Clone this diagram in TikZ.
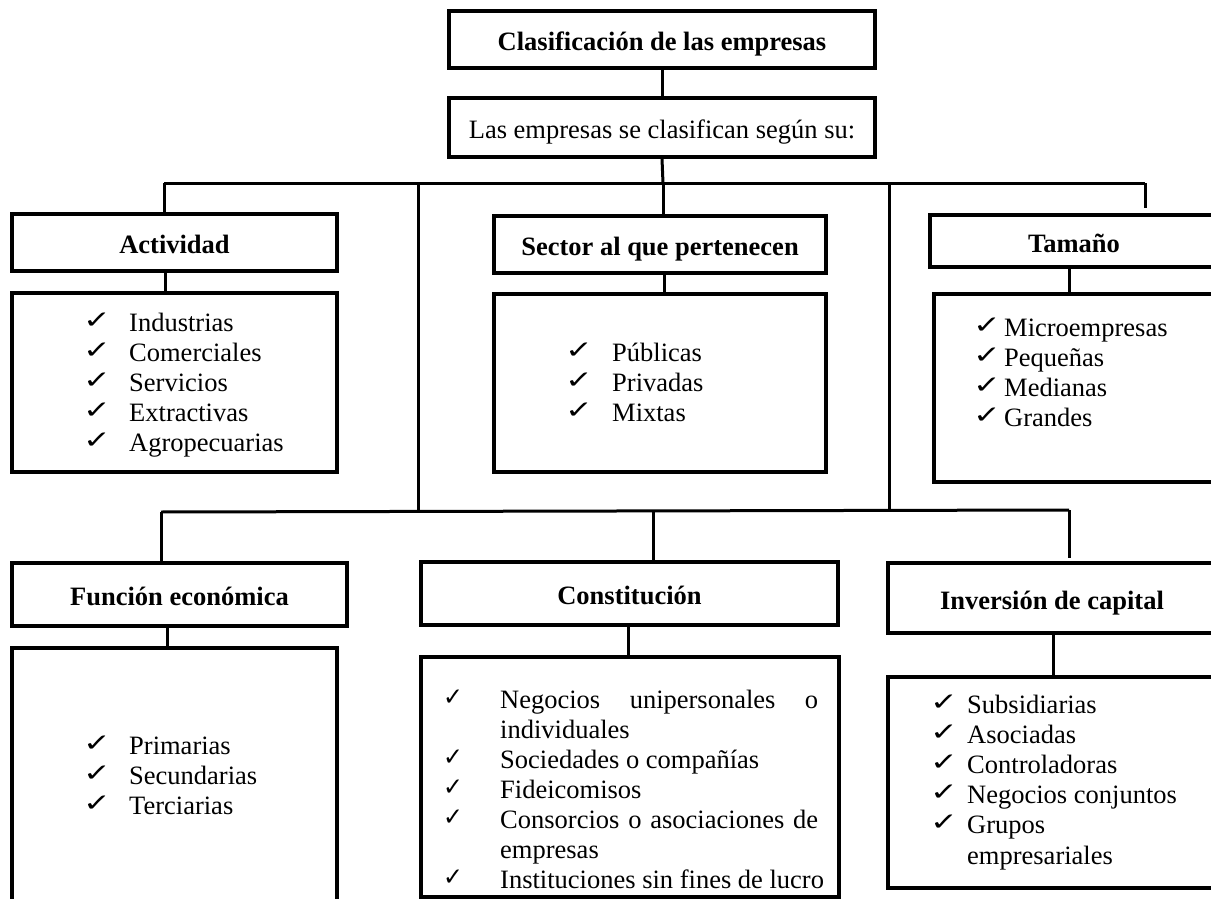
\documentclass[tikz,border=0pt]{standalone}
\usepackage{graphicx}
\usepackage{fontspec}
\setmainfont{Liberation Serif}
\newfontfamily\chkfont{DejaVu Sans}
\newcommand\bigtick{\raisebox{3pt}{\scalebox{1.75}[1.3]{✓}}}
\newcommand\narrowtick{\raisebox{3pt}{\scalebox{1.25}[1.3]{✓}}}
\tikzset{
  box/.style={draw, line width=3.5pt, inner sep=0pt},
  head/.style={box, font=\bfseries\fontsize{26.5}{30}\selectfont, text height=22pt, text depth=0pt},
  subhead/.style={box, font=\fontsize{26.5}{30}\selectfont, text height=22pt, text depth=0pt},
  conn/.style={line width=3pt},
  item/.style={anchor=base west, inner sep=0pt, font=\fontsize{26.5}{30}\selectfont},
  tick/.style={anchor=base west, inner sep=0pt, font=\chkfont\fontsize{19}{20}\selectfont},
}
\begin{document}
\begin{tikzpicture}[x=1pt,y=-1pt]
\useasboundingbox (0,0) rectangle (1211,899);
\clip (0,0) rectangle (1211,899);
% boxes
\node[head, minimum width=426pt, minimum height=57pt] (title) at (662,39.5) {Clasificación de las empresas};
\node[subhead, minimum width=426pt, minimum height=59pt] (sub) at (662,127.5) {Las empresas se clasifican según su:};
\node[head, minimum width=325pt, minimum height=57pt] (act) at (174.5,242.5) {Actividad};
\node[box, minimum width=325pt, minimum height=179pt] (actL) at (174.5,382.5) {};
\node[head, minimum width=332pt, minimum height=57pt] (sec) at (660,244.5) {Sector al que pertenecen};
\node[box, minimum width=332pt, minimum height=178pt] (secL) at (660,383) {};
\node[head, minimum width=288pt, minimum height=52pt] (tam) at (1074,241) {Tamaño};
\node[box, minimum width=286pt, minimum height=188pt] (tamL) at (1077,388) {};
\node[head, minimum width=335pt, minimum height=63pt] (fun) at (179.5,594.5) {Función económica};
\node[box, minimum width=325pt, minimum height=272pt] (funL) at (174.5,784) {};
\node[head, minimum width=417pt, minimum height=63pt] (con) at (629.5,593.5) {Constitución};
\node[box, minimum width=418pt, minimum height=240pt] (conL) at (630,777) {};
\node[head, minimum width=328pt, minimum height=70pt] (inv) at (1052,598) {Inversión de capital};
\node[box, minimum width=332pt, minimum height=211pt] (invL) at (1054,782.5) {};
% coordinates
\coordinate (b1L) at (164,183);
\coordinate (b1A) at (418,183);
\coordinate (b1M) at (663,183);
\coordinate (b1B) at (889,183);
\coordinate (b1R) at (1145,183);
\coordinate (b1Rend) at (1145,208);
\coordinate (b2L) at (161,512);
\coordinate (b2A) at (418,512);
\coordinate (b2M) at (653,511.5);
\coordinate (b2B) at (889,510.5);
\coordinate (b2R) at (1069,510);
\coordinate (b2Rend) at (1069,558);
\coordinate (xA) at (165,0);
\coordinate (xS) at (664,0);
\coordinate (xT) at (1069,0);
\coordinate (xF) at (167,0);
\coordinate (xC) at (628,0);
\coordinate (xI) at (1053,0);
% connectors
\draw[conn] (title) -- (sub);
\draw[conn] (sub.south) -- (b1M);
\draw[conn] (b1L) -- (b1R);
\draw[conn] (b1L) -- (b1L |- act.north);
\draw[conn] (b1M) -- (b1M |- sec.north);
\draw[conn] (b1A) -- (b2A);
\draw[conn] (b1B) -- (b2B);
\draw[conn] (b1R) -- (b1Rend);
\draw[conn] (xA |- act.south) -- (xA |- actL.north);
\draw[conn] (xS |- sec.south) -- (xS |- secL.north);
\draw[conn] (xT |- tam.south) -- (xT |- tamL.north);
\draw[conn] (b2L) -- (b2R);
\draw[conn] (b2L) -- (b2L |- fun.north);
\draw[conn] (b2M) -- (b2M |- con.north);
\draw[conn] (b2R) -- (b2Rend);
\draw[conn] (xF |- fun.south) -- (xF |- funL.north);
\draw[conn] (xC |- con.south) -- (xC |- conL.north);
\draw[conn] (xI |- inv.south) -- ([yshift=-3pt]xI |- invL.north);
% lists
\foreach \t [count=\i] in {Industrias, Comerciales, Servicios, Extractivas, Agropecuarias} {
  \node[tick] (actc\i) at (83,301+30*\i) {\bigtick};
  \node[item] (actt\i) at (129,301+30*\i) {\t};
}
\foreach \t [count=\i] in {Públicas, Privadas, Mixtas} {
  \node[tick] (secc\i) at (565,331+30*\i) {\bigtick};
  \node[item] (sect\i) at (612,331+30*\i) {\t};
}
\foreach \t [count=\i] in {Microempresas, Pequeñas, Medianas, Grandes} {
  \node[tick] (tamc\i) at (973,305.7+30.3*\i) {\bigtick};
  \node[item] (tamt\i) at (1004,305.7+30.3*\i) {\t};
}
\foreach \t [count=\i] in {Primarias, Secundarias, Terciarias} {
  \node[tick] (func\i) at (83,724+30*\i) {\bigtick};
  \node[item] (funt\i) at (129,724+30*\i) {\t};
}
% Constitucion
\node[tick] (conc1) at (443,708) {\narrowtick};
\node[item] (cont1) at (500,708) {\makebox[318pt][s]{Negocios unipersonales o}};
\node[item] (cont2) at (500,738) {individuales};
\node[tick] (conc3) at (443,768) {\narrowtick};
\node[item] (cont3) at (500,768) {Sociedades o compañías};
\node[tick] (conc4) at (443,798) {\narrowtick};
\node[item] (cont4) at (500,798) {Fideicomisos};
\node[tick] (conc5) at (443,828) {\narrowtick};
\node[item] (cont5) at (500,828) {\makebox[318pt][s]{Consorcios o asociaciones de}};
\node[item] (cont6) at (500,858) {empresas};
\node[tick] (conc7) at (443,888) {\narrowtick};
\node[item] (cont7) at (500,888) {Instituciones sin fines de lucro};
% Inversion
\foreach \t [count=\i] in {Subsidiarias, Asociadas, Controladoras, Negocios conjuntos, Grupos} {
  \node[tick] (invc\i) at (930,682.8+30.2*\i) {\bigtick};
  \node[item] (invt\i) at (967,682.8+30.2*\i) {\t};
}
\node[item] (invt6) at (967,864) {empresariales};
\end{tikzpicture}
\end{document}
